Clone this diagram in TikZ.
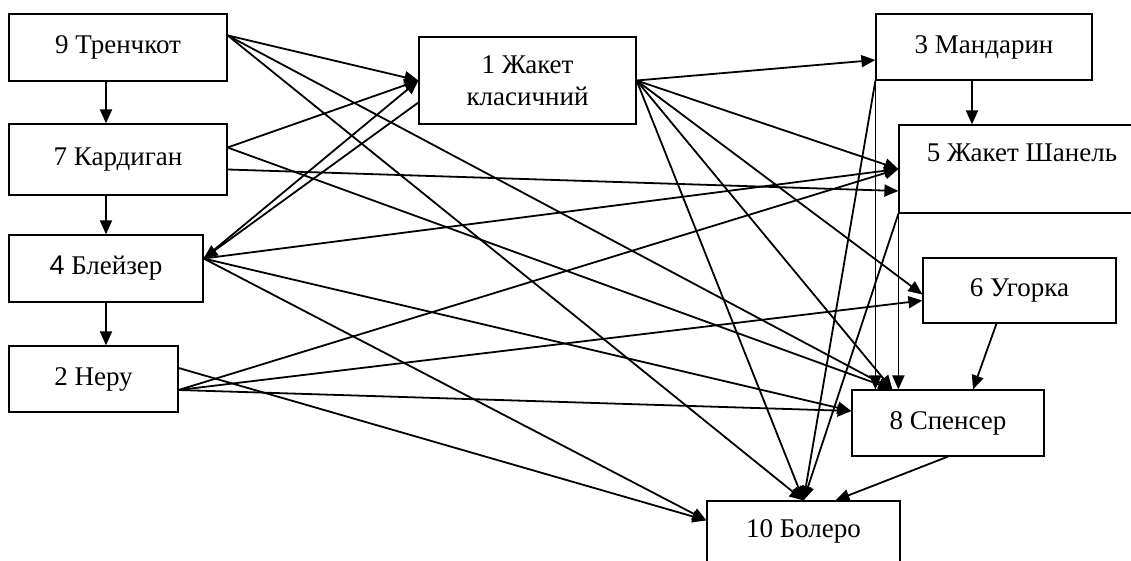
\documentclass[tikz,border=0pt]{standalone}
\usepackage{fontspec}
\setmainfont{Liberation Serif}
\newfontfamily\arialfont{Liberation Sans}
\usetikzlibrary{arrows.meta,calc}

\begin{document}
\begin{tikzpicture}[x=0.5pt,y=-0.5pt,
  garment/.style={draw, line width=0.6pt, fill=white, inner sep=0pt, align=center, font=\fontsize{13.5}{16}\selectfont},
  link/.style={line width=0.9pt, -{Triangle[length=7pt,width=6pt]}}]
\useasboundingbox (0,0) rectangle (1131,561);
\clip (0,0) rectangle (1131,561);

% left column
\node[garment, minimum width=109pt, minimum height=33.5pt] (trench) at (118,47.5) {9 Тренчкот};
\node[garment, minimum width=109pt, minimum height=35.5pt] (cardigan) at (118,159.5) {7 Кардиган};
\node[garment, minimum width=97pt, minimum height=33.5pt] (blazer) at (106,268.5) {{\arialfont 4} Блейзер};
\node[garment, minimum width=84.5pt, minimum height=33pt] (nehru) at (93.5,379) {2 Неру};

% middle and right
\node[garment, minimum width=108.5pt, minimum height=43.5pt] (classic) at (527.5,80.5) {1 Жакет\\класичний};
\node[garment, minimum width=108pt, minimum height=33pt] (mandarin) at (984,47) {3 Мандарин};
\node[garment, minimum width=123pt, minimum height=44pt] (chanel) at (1022,169) {5 Жакет Шанель\\\mbox{}};
\node[garment, minimum width=96.5pt, minimum height=32.5pt] (hungarian) at (1019.5,290.5) {6 Угорка};
\node[garment, minimum width=96pt, minimum height=33pt] (spencer) at (948,423) {8 Спенсер};
\node[garment, minimum width=96.5pt, minimum height=44pt] (bolero) at (803.5,545) {10 Болеро\\\mbox{}};

\coordinate (mandarin drop) at ($(mandarin.south)+(-12,0)$);

% left column links
\draw[link] (trench.south -| blazer) -- (cardigan.north -| blazer);
\draw[link] (cardigan.south -| blazer) -- (blazer.north);
\draw[link] (blazer.south) -- (blazer.south |- nehru.north);

% from 9
\draw[link] ($(trench.north east)+(0,22)$) -- (classic.west);
\draw[link] ($(trench.north east)+(0,22)$) -- ($(spencer.north west)+(41,0)$);
\draw[link] ($(trench.north east)+(0,22)$) -- (bolero.north);

% from 7
\draw[link] ($(cardigan.east)+(0,-12)$) -- (classic.west);
\draw[link] ($(cardigan.east)+(0,-12)$) -- ($(spencer.north west)+(41,0)$);
\draw[link] ($(cardigan.east)+(0,10)$) -- ($(chanel.west)+(0,22)$);

% from 4
\draw[link] ($(blazer.east)+(0,-10)$) -- (classic.west);
\draw[link] ($(classic.west)+(0,22)$) -- ($(blazer.east)+(0,-10)$);
\draw[link] ($(blazer.east)+(0,-10)$) -- (chanel.west);
\draw[link] ($(blazer.east)+(0,-10)$) -- ($(spencer.west)+(0,-12)$);
\draw[link] ($(blazer.east)+(0,-10)$) -- ($(bolero.north west)+(0,20)$);

% from 2
\draw[link] ($(nehru.east)+(0,11)$) -- (chanel.west);
\draw[link] ($(nehru.east)+(0,11)$) -- ($(hungarian.west)+(0,10)$);
\draw[link] ($(nehru.east)+(0,11)$) -- ($(spencer.west)+(0,-12)$);
\draw[link] ($(nehru.east)+(0,-11)$) -- ($(bolero.north west)+(0,20)$);

% from 1
\draw[link] (classic.east) -- ($(mandarin.west)+(0,13)$);
\draw[link] (classic.east) -- (chanel.west);
\draw[link] (classic.east) -- ($(hungarian.west)+(0,4)$);
\draw[link] (classic.east) -- ($(spencer.north west)+(41,0)$);
\draw[link] (classic.east) -- (bolero.north);

% right column links
\draw[link] (mandarin drop) -- (mandarin drop |- chanel.north);
\draw[link] (mandarin.south west) -- (mandarin.south west |- spencer.north);
\draw[link] (mandarin.south west) -- (bolero.north);
\draw[link] (chanel.south west) -- (chanel.south west |- spencer.north);
\draw[link] (chanel.south west) -- (bolero.north);
\draw[link] ($(hungarian.south)+(-23,0)$) -- ($(spencer.north)+(25,0)$);
\draw[link] (spencer.south) -- ($(bolero.north)+(32,0)$);
\end{tikzpicture}
\end{document}
